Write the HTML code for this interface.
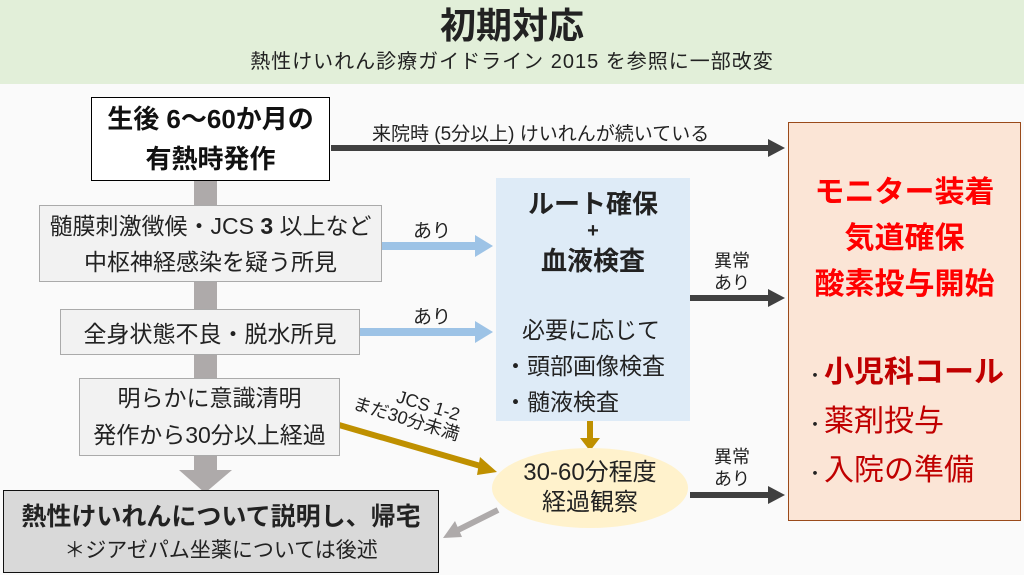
<!DOCTYPE html>
<html><head><meta charset="utf-8"><style>
*{margin:0;padding:0;box-sizing:border-box}
body{width:1024px;height:575px;background:#fafafa;position:relative;overflow:hidden;font-family:"Liberation Sans","Noto Sans CJK JP",sans-serif;color:#222}
.a{position:absolute}
.c{display:flex;flex-direction:column;align-items:center;justify-content:center;text-align:center;white-space:nowrap}
</style></head><body>
<div class="a c" style="left:0;top:0;width:1024px;height:84px;background:#e2efd9">
<div style="font-size:36px;font-weight:bold;line-height:42px;margin-top:-4px">初期対応</div>
<div style="font-size:20px;line-height:26px;margin-top:2px;letter-spacing:1px">熱性けいれん診療ガイドライン 2015 を参照に一部改変</div>
</div>
<svg class="a" style="left:0;top:0" width="1024" height="575">
<rect x="194" y="180" width="23" height="292" fill="#aeaaaa"/>
<polygon points="179,470 232,470 205,493" fill="#aeaaaa"/>
<line x1="331" y1="148" x2="770" y2="148" stroke="#404040" stroke-width="6"/>
<polygon points="768,139 785,148 768,157" fill="#404040"/>
<line x1="690" y1="298" x2="770" y2="298" stroke="#404040" stroke-width="6"/>
<polygon points="768,289 785,298 768,307" fill="#404040"/>
<line x1="690" y1="495" x2="770" y2="495" stroke="#404040" stroke-width="6"/>
<polygon points="768,486 785,495 768,504" fill="#404040"/>
<line x1="381" y1="246" x2="476" y2="246" stroke="#9dc3e6" stroke-width="8"/>
<polygon points="475,235 493,246 475,257" fill="#9dc3e6"/>
<line x1="359" y1="332" x2="476" y2="332" stroke="#9dc3e6" stroke-width="8"/>
<polygon points="475,321 493,332 475,343" fill="#9dc3e6"/>
<line x1="339" y1="425" x2="484" y2="467" stroke="#bf9000" stroke-width="6"/>
<polygon points="480,457 497,472 477,475" fill="#bf9000"/>
<line x1="590" y1="420" x2="590" y2="440" stroke="#bf9000" stroke-width="6"/>
<polygon points="580,438 600,438 590,451" fill="#bf9000"/>
<line x1="498" y1="510" x2="458" y2="530" stroke="#aeaaaa" stroke-width="6"/>
<polygon points="455,521 443,538 462,537" fill="#aeaaaa"/>
<ellipse cx="590" cy="488" rx="98" ry="40" fill="#fff2cc"/>
</svg>
<div class="a c" style="left:91px;top:97px;width:239px;height:84px;background:#fff;border:1.5px solid #000;font-weight:bold;font-size:26px;line-height:40px;color:#111">
<div>生後 6〜60か月の</div><div>有熱時発作</div></div>
<div class="a" style="left:372px;top:119px;font-size:19px;white-space:nowrap">来院時 (5分以上) けいれんが続いている</div>
<div class="a c" style="left:39px;top:205px;width:343px;height:77px;background:#f2f2f2;border:1px solid #aaa;font-size:23px;line-height:36px">
<div>髄膜刺激徴候・JCS <b>3</b> 以上など</div><div>中枢神経感染を疑う所見</div></div>
<div class="a c" style="left:60px;top:309px;width:300px;height:46px;background:#f2f2f2;border:1px solid #aaa;font-size:23px">全身状態不良・脱水所見</div>
<div class="a c" style="left:79px;top:378px;width:261px;height:78px;background:#f2f2f2;border:1px solid #aaa;font-size:23px;line-height:37px">
<div>明らかに意識清明</div><div>発作から30分以上経過</div></div>
<div class="a" style="left:413px;top:216px;font-size:19px">あり</div>
<div class="a" style="left:413px;top:302px;font-size:19px">あり</div>
<div class="a" style="left:362px;top:376px;font-size:18px;line-height:19px;transform:rotate(17deg);transform-origin:left top;text-align:center;white-space:nowrap">
<div style="padding-left:34px">JCS 1-2</div><div>まだ30分未満</div></div>
<div class="a c" style="left:3px;top:490px;width:436px;height:83px;background:#d9d9d9;border:1.5px solid #111">
<div style="font-size:25px;font-weight:bold;line-height:38px">熱性けいれんについて説明し、帰宅</div>
<div style="font-size:21px;line-height:30px">＊ジアゼパム坐薬については後述</div></div>
<div class="a" style="left:496px;top:178px;width:194px;height:243px;background:#deebf7"></div>
<div class="a" style="left:496px;top:187px;width:194px;text-align:center">
<div style="font-size:26px;font-weight:bold;line-height:34px">ルート確保</div>
<div style="font-size:20px;font-weight:bold;line-height:20px">+</div>
<div style="font-size:26px;font-weight:bold;line-height:40px">血液検査</div></div>
<div class="a" style="left:504px;top:312px;font-size:23px;line-height:36px;white-space:nowrap">
<div style="padding-left:18px">必要に応じて</div><div>・頭部画像検査</div><div>・髄液検査</div></div>
<div class="a c" style="left:492px;top:448px;width:196px;height:80px;font-size:24px;line-height:30px"><div>30-60分程度</div><div>経過観察</div></div>
<div class="a" style="left:714px;top:250px;font-size:18px;line-height:22px">異常<br>あり</div>
<div class="a" style="left:714px;top:446px;font-size:18px;line-height:22px">異常<br>あり</div>
<div class="a" style="left:788px;top:122px;width:233px;height:399px;background:#fbe5d6;border:1.5px solid #9a4a1a"></div>
<div class="a" style="left:788px;top:170px;width:233px;text-align:center;color:#ff0000;font-weight:bold;font-size:30px;line-height:46px;white-space:nowrap">
<div>モニター装着</div><div>気道確保</div><div>酸素投与開始</div></div>
<div class="a" style="left:806px;top:350px;color:#c00000;font-size:30px;line-height:46px;white-space:nowrap">
<div><span style="color:#222;font-size:18px">・</span><b>小児科コール</b></div>
<div><span style="color:#222;font-size:18px">・</span>薬剤投与</div>
<div><span style="color:#222;font-size:18px">・</span>入院の準備</div></div>
</body></html>
